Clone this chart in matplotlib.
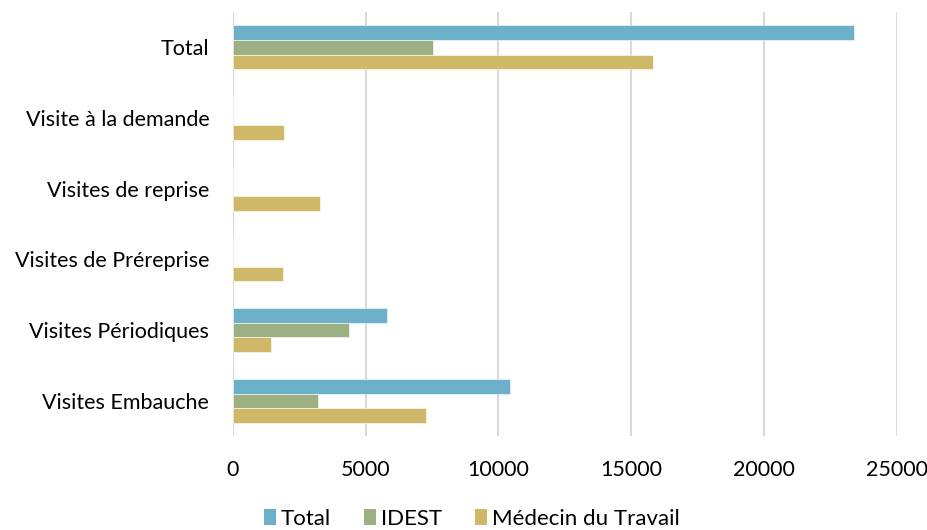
import numpy as np
from matplotlib import pyplot as plt
from matplotlib.patches import Patch

CATEGORIES = ["Visites Embauche", "Visites Périodiques", "Visites de Préreprise",
              "Visites de reprise", "Visite à la demande", "Total"]
TOTAL = [10450, 5790, 0, 0, 0, 23400]
IDEST = [3190, 4360, 0, 0, 0, 7550]
MEDECIN = [7260, 1420, 1880, 3280, 1930, 15830]
X_TICKS = [0, 5000, 10000, 15000, 20000, 25000]

SERIES = [("Total", TOTAL, "#6cb0c9"),
          ("IDEST", IDEST, "#9db083"),
          ("Médecin du Travail", MEDECIN, "#cfb968")]

plt.rcParams["font.family"] = ["Lato", "DejaVu Sans"]

fig = plt.figure(figsize=(9.27, 5.30), dpi=100)
ax = fig.add_axes([0.2513, 0.177, 0.9671 - 0.2513, 0.9774 - 0.177])

y = np.arange(len(CATEGORIES))
h = 0.207
for i, (name, values, color) in enumerate(SERIES):
    ax.barh(y + (1 - i) * h, values, height=h, color=color,
            edgecolor="white", linewidth=0.4, label=name, zorder=3)

ax.set_xlim(0, 25000)
ax.set_ylim(-0.5, len(CATEGORIES) - 0.5)
ax.set_xticks(X_TICKS)
ax.set_xticklabels([str(t) for t in X_TICKS])
ax.set_yticks(y)
ax.set_yticklabels(CATEGORIES)
ax.tick_params(axis="both", length=0, labelsize=15.5, colors="#000000")
ax.tick_params(axis="x", pad=17)
ax.tick_params(axis="y", pad=17)

ax.grid(axis="x", color="#d9d9d9", linewidth=1.5, zorder=0)
for side in ax.spines.values():
    side.set_visible(False)

handles = [Patch(facecolor=c, label=n) for n, _, c in SERIES]
fig.legend(handles=handles, loc="lower center", bbox_to_anchor=(0.509, -0.035),
           ncol=3, frameon=False, fontsize=16, handlelength=0.55, handleheight=0.7,
           handletextpad=0.2, columnspacing=1.5)

fig.savefig("out.png", dpi=100)
